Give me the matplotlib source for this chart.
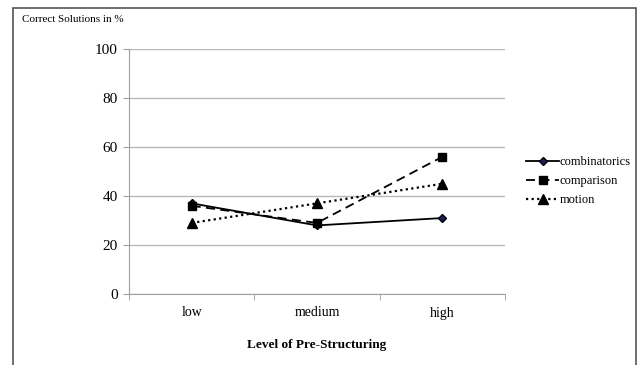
import matplotlib
matplotlib.use('Agg')
from matplotlib import pyplot as plt
from matplotlib.patches import Rectangle
import numpy as np

levels = ['low', 'medium', 'high']
combinatorics = [37, 28, 31]
comparison = [36, 29, 56]
motion = [29, 37, 45]
yticks = [0, 20, 40, 60, 80, 100]

plt.rcParams['font.family'] = ['Liberation Serif', 'DejaVu Serif']

W, H = 641, 365
fig = plt.figure(figsize=(W / 100, H / 100), dpi=100)

# axes placed in pixel terms
left, right, top, bottom = 129, 505, 49, 294
ax = fig.add_axes([left / W, 1 - bottom / H, (right - left) / W, (bottom - top) / H])

x = np.arange(len(levels))
ax.plot(x, combinatorics, color='black', linestyle='-', linewidth=1.3,
        marker='D', markersize=4, markerfacecolor='#1a1f5c', markeredgecolor='black',
        label='combinatorics')
ax.plot(x, comparison, color='black', linestyle=(0, (5, 3)), linewidth=1.3,
        marker='s', markersize=6, markerfacecolor='black', markeredgecolor='black',
        label='comparison')
ax.plot(x, motion, color='black', linestyle=(0, (1, 1.5)), linewidth=1.6,
        marker='^', markersize=7, markerfacecolor='black', markeredgecolor='black',
        label='motion')

ax.set_xlim(-0.5, len(levels) - 0.5)
ax.set_ylim(0, 100)
ax.set_yticks(yticks)
ax.set_yticklabels([str(v) for v in yticks], fontsize=11)
ax.set_xticks(x)
ax.set_xticklabels(levels, fontsize=10)
ax.tick_params(axis='x', length=0, pad=9)
ax.set_xticks(np.arange(-0.5, len(levels)), minor=True)
ax.tick_params(axis='x', which='minor', length=4, color='#a0a0a0', direction='out')
ax.tick_params(axis='y', length=4, color='#a0a0a0', pad=4)
ax.grid(True, axis='y', color='#b8b8b8', linewidth=1)
ax.set_axisbelow(True)
for s in ['top', 'right']:
    ax.spines[s].set_visible(False)
for s in ['left', 'bottom']:
    ax.spines[s].set_color('#a0a0a0')

ax.set_xlabel('Level of Pre-Structuring', fontsize=9.5, fontweight='bold', labelpad=14)

fig.text(22 / W, 1 - 20 / H, 'Correct Solutions in %', fontsize=8, va='center', ha='left')

ax.legend(loc='upper left', bbox_to_anchor=(520 / W, 1 - 150 / H), bbox_transform=fig.transFigure,
          frameon=False, fontsize=9, handlelength=2.6, handletextpad=0.1,
          labelspacing=0.55, borderpad=0)

# outer frame
fig.patches.append(Rectangle((12.5 / W, -0.05), (623.5 / W), 1 - 7.5 / H + 0.05,
                             transform=fig.transFigure, fill=False,
                             edgecolor='#555555', linewidth=1.2))

fig.savefig('out.png', dpi=100)
